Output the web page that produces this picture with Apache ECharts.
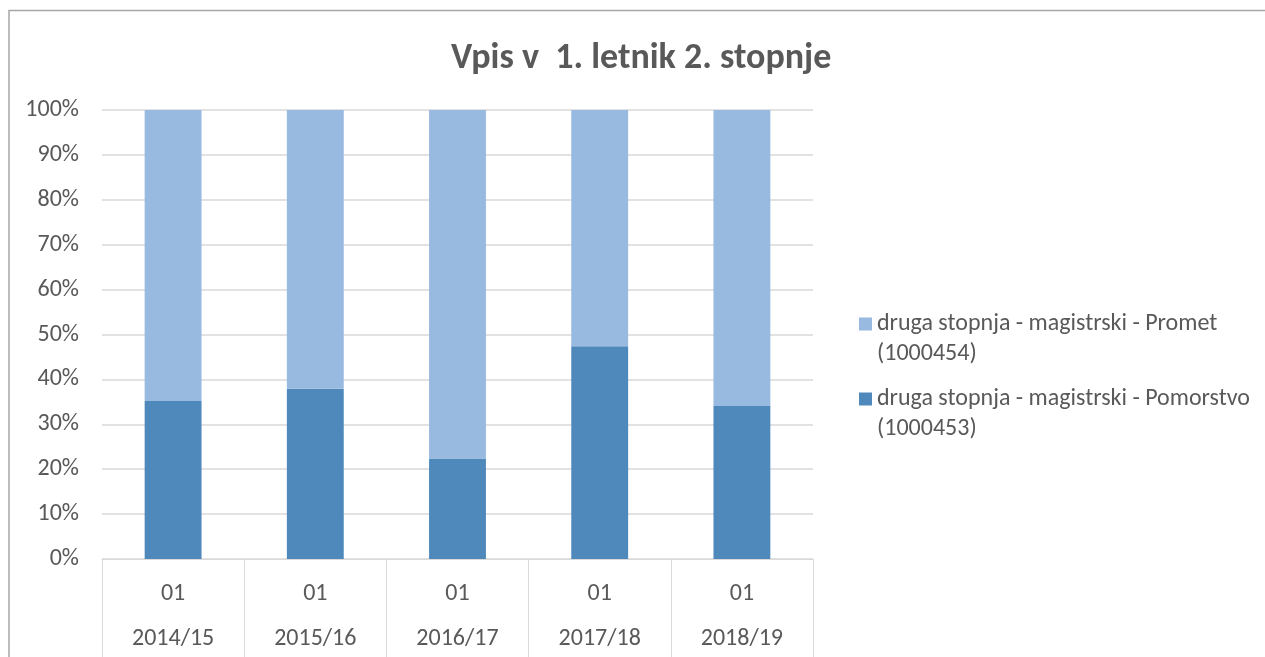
<!DOCTYPE html>
<html>
<head>
<meta charset="utf-8">
<script src="https://cdn.jsdelivr.net/npm/echarts@6/dist/echarts.min.js"></script>
<style>
  html, body { margin: 0; padding: 0; background: #fff; }
  #chart { width: 1265px; height: 657px; }
</style>
</head>
<body>
<div id="chart"></div>
<script>
    // data
    var years = ['2014/15', '2015/16', '2016/17', '2017/18', '2018/19'];
    var level1 = ['01', '01', '01', '01', '01'];
    var pomorstvo = [35.2, 37.9, 22.4, 47.4, 34.1];
    var promet = [64.8, 62.1, 77.6, 52.6, 65.9];
    var yTicks = [0, 10, 20, 30, 40, 50, 60, 70, 80, 90, 100];

    var namePomorstvo = 'druga stopnja - magistrski - Pomorstvo (1000453)';
    var namePromet = 'druga stopnja - magistrski - Promet (1000454)';

    var font = 'Carlito, "Open Sans", sans-serif';
    var txt = '#595959';
    // square at the top of a tall box, so it sits next to the first text line
    var topSquare = 'path://M0,0h13v13h-13z M0,42.99h0.01v0.01h-0.01z';

    var chart = echarts.init(document.getElementById('chart'));
    chart.setOption({
        animation: false,
        textStyle: {fontFamily: font},
        title: {
            text: 'Vpis v  1. letnik 2. stopnje',
            left: 446,
            top: 36,
            textStyle: {fontSize: 36, fontWeight: 'bold', color: txt, fontFamily: font}
        },
        graphic: [{
            type: 'rect',
            shape: {x: 9, y: 10.5, width: 1300, height: 700},
            style: {fill: 'none', stroke: '#a6a6a6', lineWidth: 1.5},
            silent: true
        }],
        grid: {left: 102, right: 452, top: 110, bottom: 98, outerBoundsMode: 'none', containLabel: false},
        legend: {
            orient: 'vertical',
            left: 854,
            top: 304,
            itemWidth: 13,
            itemHeight: 43,
            itemGap: 15,
            data: [
                {name: namePromet, icon: topSquare},
                {name: namePomorstvo, icon: topSquare}
            ],
            formatter: function (name) {
                return name.replace(' (', '\n(');
            },
            textStyle: {fontSize: 24, color: txt, lineHeight: 30, fontFamily: font}
        },
        xAxis: {
            type: 'category',
            data: years,
            axisLine: {lineStyle: {color: '#d9d9d9', width: 1}},
            axisTick: {show: true, length: 100, lineStyle: {color: '#d9d9d9'}},
            axisLabel: {
                margin: 12,
                fontSize: 24,
                color: txt,
                lineHeight: 45,
                formatter: function (v, i) {
                    return level1[i] + '\n' + v;
                }
            }
        },
        yAxis: {
            type: 'value',
            min: yTicks[0],
            max: yTicks[yTicks.length - 1],
            interval: 10,
            axisLine: {show: false},
            axisTick: {show: false},
            splitLine: {lineStyle: {color: '#d9d9d9', width: 1.5}},
            axisLabel: {margin: 23, fontSize: 24, color: txt, formatter: '{value}%'}
        },
        series: [{
            name: namePomorstvo,
            type: 'bar',
            stack: 'total',
            barWidth: '40%',
            data: pomorstvo,
            itemStyle: {color: '#4f89bc'}
        }, {
            name: namePromet,
            type: 'bar',
            stack: 'total',
            barWidth: '40%',
            data: promet,
            itemStyle: {color: '#98b9e0'}
        }]
    });
</script>
</body>
</html>
